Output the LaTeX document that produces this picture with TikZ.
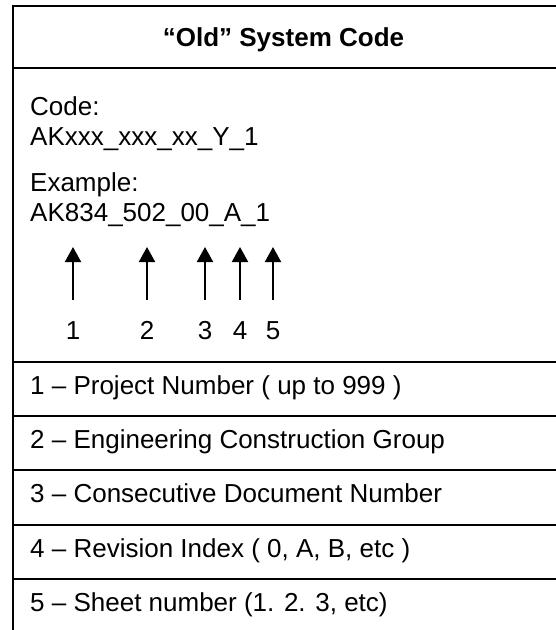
\documentclass[tikz,border=0pt]{standalone}
\usepackage{fontspec}
\setmainfont{Liberation Sans}
\usetikzlibrary{arrows.meta}
\begin{document}
\begin{tikzpicture}[x=1pt,y=-1pt,
  rule/.style={line width=2pt, line cap=rect},
  txt/.style={anchor=base west, inner sep=0pt, font=\fontsize{26}{30}\selectfont},
  ttl/.style={anchor=base, inner sep=0pt, font=\fontsize{26}{30}\selectfont\bfseries},
  num/.style={anchor=base, inner sep=0pt, font=\fontsize{26}{30}\selectfont},
  pointer/.style={line width=2pt, -{Triangle[width=16pt,length=15pt]}}]
\useasboundingbox (0,0) rectangle (555,630);
% table frame
\draw[rule] (555,6) -- (13,6) -- (13,630);
\foreach \yy in {68,362,416,470,525,579} \draw[rule] (13,\yy) -- (555,\yy);
% title
\node[ttl] (title) at (283.5,46.5) {“Old” System Code};
% code block
\node[txt] (code) at (30,115) {Code:};
\node[txt] (codefmt) at (30,145) {AKxxx\_xxx\_xx\_Y\_1};
\node[txt] (ex) at (30,191) {Example:};
\node[txt] (exval) at (30,221) {AK834\_502\_00\_A\_1};
% arrows and numbers
\foreach \i/\xx in {1/73,2/147,3/205,4/240,5/273}{
  \coordinate (s\i) at (\xx,300);
  \coordinate (e\i) at (\xx,247);
  \draw[pointer] (s\i) -- (e\i);
  \node[num] (n\i) at (\xx,339) {\i};
}
% legend rows
\node[txt] (r1) at (30,394) {1 – Project Number ( up to 999 )};
\node[txt] (r2) at (30,448) {2 – Engineering Construction Group};
\node[txt] (r3) at (30,502) {3 – Consecutive Document Number};
\node[txt] (r4) at (30,557) {4 – Revision Index ( 0, A, B, etc )};
\node[txt] (r5) at (30,611) {5 – Sheet number (1. 2. 3, etc)};
\end{tikzpicture}
\end{document}
